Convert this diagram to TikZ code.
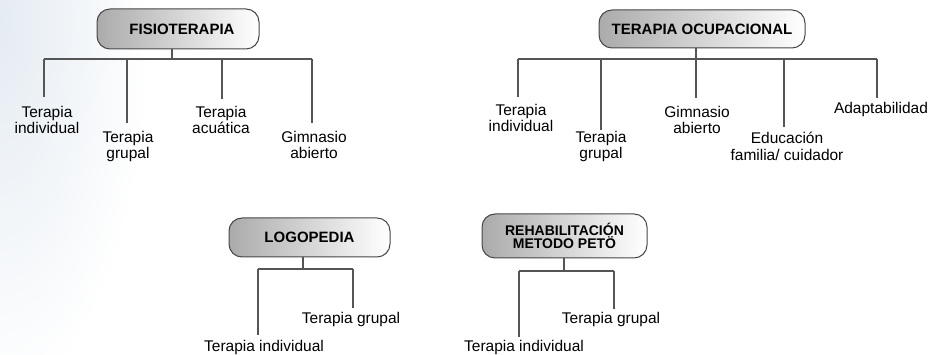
\documentclass[tikz,border=0pt]{standalone}
\usepackage{fontspec}
\setmainfont{Liberation Sans}
\definecolor{bgb}{RGB}{228,235,242}
\definecolor{edgecol}{RGB}{70,70,70}
\definecolor{conncol}{RGB}{85,85,85}
\tikzset{
  headbox/.style={draw=edgecol, line width=1pt, rounded corners=13pt,
    left color=black!33, right color=white,
    font=\bfseries\fontsize{15}{15}\selectfont, align=center, inner sep=0pt},
  leaf/.style={font=\fontsize{15.5}{16.5}\selectfont, align=center,
    inner sep=0pt, anchor=north},
  conn/.style={draw=conncol, line width=1.1pt},
}
\begin{document}
\begin{tikzpicture}[x=1pt,y=-1pt]
\useasboundingbox (0,0) rectangle (935,355);
\fill[white] (0,0) rectangle (935,355);
\shade[inner color=bgb, outer color=white] (0,20) ellipse [x radius=150, y radius=380];

% ---------- FISIOTERAPIA ----------
\node[headbox, minimum width=162pt, minimum height=40pt] (fisio) at (178,29) {\hspace*{8pt}FISIOTERAPIA};
\coordinate (fh) at (172,59);
\coordinate (f1) at (44,59);
\coordinate (f2) at (127,59);
\coordinate (f3) at (222,59);
\coordinate (f4) at (312,59);
\draw[conn] (fisio.south -| fh) -- (fh);
\draw[conn] (f1) -- (f4);
\node[leaf] (fa) at (47,106) {Terapia\\individual};
\node[leaf] (fb) at (128,131) {Terapia\\grupal};
\node[leaf] (fc) at (221,106) {Terapia\\acuática};
\node[leaf] (fd) at (314,131) {Gimnasio\\abierto};
\draw[conn, shorten >=9pt] (f1) -- (f1 |- fa.north);
\draw[conn, shorten >=8pt] (f2) -- (f2 |- fb.north);
\draw[conn, shorten >=7pt] (f3) -- (f3 |- fc.north);
\draw[conn, shorten >=8pt] (f4) -- (f4 |- fd.north);

% ---------- TERAPIA OCUPACIONAL ----------
\node[headbox, minimum width=206pt, minimum height=38pt] (ocup) at (702,29) {TERAPIA OCUPACIONAL};
\coordinate (oh) at (696,59);
\coordinate (o1) at (518,59);
\coordinate (o2) at (601,59);
\coordinate (o3) at (696,59);
\coordinate (o4) at (784,59);
\coordinate (o5) at (877,59);
\draw[conn] (ocup.south -| oh) -- (oh);
\draw[conn] (o1) -- (o5);
\node[leaf] (oa) at (521,104) {Terapia\\individual};
\node[leaf] (ob) at (601,131) {Terapia\\grupal};
\node[leaf] (oc) at (697,106) {Gimnasio\\abierto};
\node[leaf] (od) at (787,132) {Educación\\familia/ cuidador};
\node[leaf] (oe) at (881,102) {Adaptabilidad};
\draw[conn, shorten >=7pt] (o1) -- (o1 |- oa.north);
\draw[conn, shorten >=1pt] (o2) -- (o2 |- ob.north);
\draw[conn, shorten >=8pt] (o3) -- (o3 |- oc.north);
\draw[conn, shorten >=5pt] (o4) -- (o4 |- od.north);
\draw[conn, shorten >=4pt] (o5) -- (o5 |- oe.north);

% ---------- LOGOPEDIA ----------
\node[headbox, minimum width=161pt, minimum height=39pt] (logo) at (309.5,237.5) {LOGOPEDIA};
\coordinate (lh) at (303,269);
\coordinate (l1) at (258,269);
\coordinate (l2) at (353,269);
\draw[conn] (logo.south -| lh) -- (lh);
\draw[conn] (l1) -- (l2);
\node[leaf] (la) at (264,340) {Terapia individual};
\node[leaf] (lb) at (351,312) {Terapia grupal};
\draw[conn, shorten >=5pt] (l1) -- (l1 |- la.north);
\draw[conn, shorten >=4pt] (l2) -- (l2 |- lb.north);

% ---------- REHABILITACION METODO PETO ----------
\node[headbox, minimum width=165pt, minimum height=44pt,
      font=\bfseries\fontsize{14}{13}\selectfont] (peto) at (564.5,236) {REHABILITACIÓN\\METODO PETÖ};
\coordinate (rh) at (564,271);
\coordinate (r1) at (519,271);
\coordinate (r2) at (614,271);
\draw[conn] (peto.south -| rh) -- (rh);
\draw[conn] (r1) -- (r2);
\node[leaf] (ra) at (524,340) {Terapia individual};
\node[leaf] (rb) at (611,312) {Terapia grupal};
\draw[conn, shorten >=3pt] (r1) -- (r1 |- ra.north);
\draw[conn, shorten >=3pt] (r2) -- (r2 |- rb.north);
\end{tikzpicture}
\end{document}
